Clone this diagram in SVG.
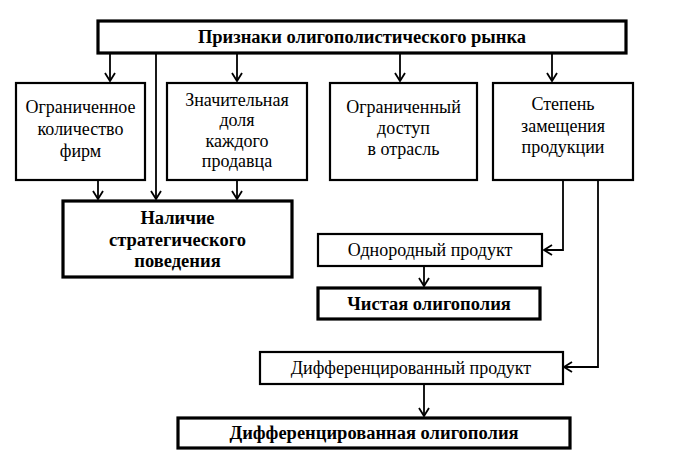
<svg xmlns="http://www.w3.org/2000/svg" width="675" height="458" viewBox="0 0 675 458">
  <style>
    .box { fill: #fff; stroke: #000; stroke-width: 2.2; }
    .bbox { fill: #fff; stroke: #000; stroke-width: 3.2; }
    .t { font-family: "Liberation Serif", "Times New Roman", serif; font-size: 18px; fill: #000; text-anchor: middle; }
    .b { font-weight: bold; font-size: 18.5px; }
    .c { fill: none; stroke: #000; stroke-width: 1.8; }
  </style>
  <defs>
    <marker id="ah" markerUnits="userSpaceOnUse" markerWidth="14" markerHeight="14" viewBox="-10 -7 12 14" refX="0" refY="0" orient="auto">
      <path d="M-8,-5 L0,0 L-8,5" fill="none" stroke="#000" stroke-width="1.8"/>
    </marker>
  </defs>
  <rect width="675" height="458" fill="#fff"/>

  <g id="connectors">
    <line class="c" x1="110" y1="53" x2="110" y2="81" marker-end="url(#ah)"/>
    <line class="c" x1="237" y1="53" x2="237" y2="81" marker-end="url(#ah)"/>
    <line class="c" x1="400" y1="53" x2="400" y2="81" marker-end="url(#ah)"/>
    <line class="c" x1="552" y1="53" x2="552" y2="81" marker-end="url(#ah)"/>
    <line class="c" x1="156" y1="53" x2="156" y2="199" marker-end="url(#ah)"/>
    <line class="c" x1="98" y1="180" x2="98" y2="199" marker-end="url(#ah)"/>
    <line class="c" x1="237" y1="180" x2="237" y2="199" marker-end="url(#ah)"/>
    <polyline class="c" points="563,181 563,250 544,250" marker-end="url(#ah)"/>
    <polyline class="c" points="598,181 598,367 564,367" marker-end="url(#ah)"/>
    <line class="c" x1="424" y1="266" x2="424" y2="286" marker-end="url(#ah)"/>
    <line class="c" x1="424" y1="384" x2="424" y2="416" marker-end="url(#ah)"/>
  </g>

  <g id="n-top">
    <rect class="bbox" x="98" y="21" width="528" height="32"/>
    <text class="t b" x="362" y="43">Признаки олигополистического рынка</text>
  </g>

  <g id="n-firms">
    <rect class="box" x="16" y="83" width="129" height="97"/>
    <text class="t" x="80.5" y="113">Ограниченное</text>
    <text class="t" x="80.5" y="135">количество</text>
    <text class="t" x="80.5" y="157">фирм</text>
  </g>

  <g id="n-share">
    <rect class="box" x="167" y="83" width="140" height="97"/>
    <text class="t" x="237" y="106">Значительная</text>
    <text class="t" x="237" y="126">доля</text>
    <text class="t" x="237" y="147">каждого</text>
    <text class="t" x="237" y="167">продавца</text>
  </g>

  <g id="n-access">
    <rect class="box" x="330" y="83" width="147" height="97"/>
    <text class="t" x="403.5" y="113">Ограниченный</text>
    <text class="t" x="403.5" y="134">доступ</text>
    <text class="t" x="403.5" y="155">в отрасль</text>
  </g>

  <g id="n-subst">
    <rect class="box" x="493" y="83" width="140" height="97"/>
    <text class="t" x="563" y="110">Степень</text>
    <text class="t" x="563" y="132">замещения</text>
    <text class="t" x="563" y="153">продукции</text>
  </g>

  <g id="n-strategic">
    <rect class="bbox" x="63" y="201" width="229" height="76"/>
    <text class="t b" x="177.5" y="224">Наличие</text>
    <text class="t b" x="177.5" y="246">стратегического</text>
    <text class="t b" x="177.5" y="267">поведения</text>
  </g>

  <g id="n-homog">
    <rect class="box" x="318" y="234" width="224" height="32"/>
    <text class="t" x="430" y="256">Однородный продукт</text>
  </g>

  <g id="n-pure">
    <rect class="bbox" x="318" y="288" width="222" height="31"/>
    <text class="t b" x="429" y="310">Чистая олигополия</text>
  </g>

  <g id="n-diffprod">
    <rect class="box" x="260" y="352" width="303" height="32"/>
    <text class="t" x="411" y="374">Дифференцированный продукт</text>
  </g>

  <g id="n-diffolig">
    <rect class="bbox" x="178" y="418" width="392" height="30"/>
    <text class="t b" x="374" y="439">Дифференцированная олигополия</text>
  </g>
</svg>
